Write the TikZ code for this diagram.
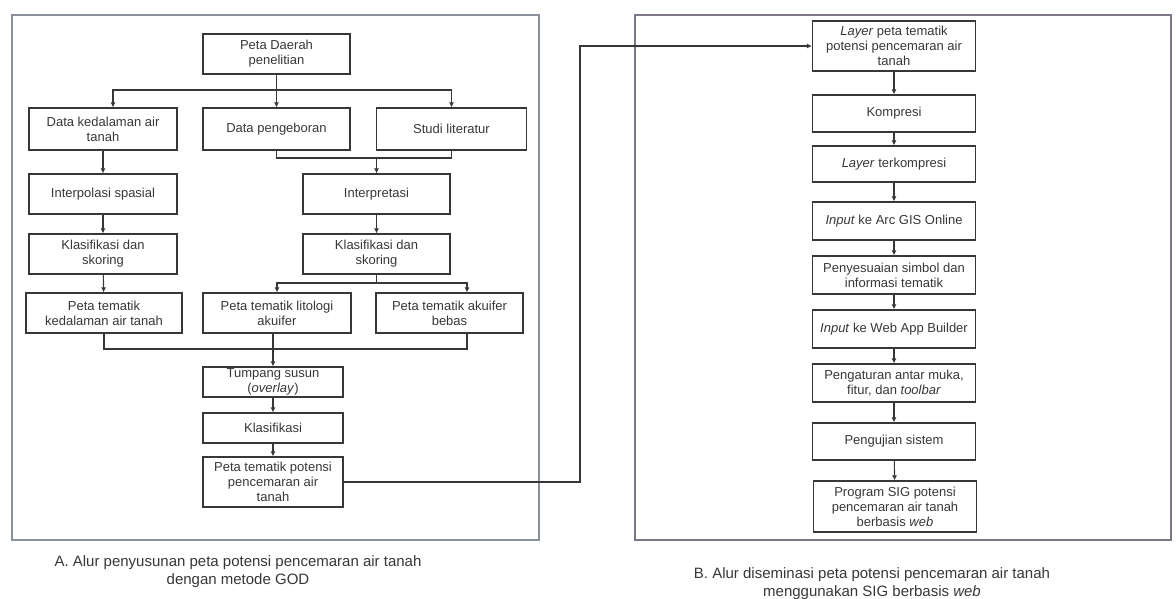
\documentclass[tikz,border=0pt]{standalone}
\usepackage{fontspec}
\setmainfont{Liberation Sans}
\usetikzlibrary{arrows.meta}
\definecolor{framea}{RGB}{138,145,155}
\definecolor{frameb}{RGB}{128,118,138}
\definecolor{ink}{RGB}{55,55,55}

\begin{document}
\begin{tikzpicture}[x=1pt,y=-1pt,
  box/.style={draw=ink,line width=1.2pt,text=ink,align=center,inner sep=1pt,font=\fontsize{13}{15}\selectfont},
  link/.style={draw=ink,line width=1.1pt},
  arr/.style={-{Latex[length=5pt,width=5pt]}},
  caption/.style={align=center,text=ink,font=\fontsize{15}{18}\selectfont}]
\useasboundingbox (0,0) rectangle (1176,599);

% panel frames
\draw[framea,line width=2pt] (12,15) rectangle (539,540);
\draw[frameb,line width=2pt] (635,15) rectangle (1171,540);

% A. penyusunan peta
\node[box,minimum width=147pt,minimum height=40pt] (peta) at (276.5,54) {Peta Daerah\\penelitian};
\node[box,minimum width=148pt,minimum height=42pt] (kedalaman) at (103,129) {Data kedalaman air\\tanah};
\node[box,minimum width=147pt,minimum height=42pt] (pengeboran) at (276.5,129) {Data pengeboran};
\node[box,minimum width=150pt,minimum height=42pt] (literatur) at (451.5,129) {Studi literatur};
\node[box,minimum width=148pt,minimum height=40pt] (interpolasi) at (103,194) {Interpolasi spasial};
\node[box,minimum width=147pt,minimum height=40pt] (interpretasi) at (376.5,194) {Interpretasi};
\node[box,minimum width=148pt,minimum height=40pt] (klasA) at (103,254) {Klasifikasi dan\\skoring};
\node[box,minimum width=147pt,minimum height=40pt] (klasB) at (376.5,254) {Klasifikasi dan\\skoring};
\node[box,minimum width=156pt,minimum height=40pt] (tematikA) at (104,313) {Peta tematik\\kedalaman air tanah};
\node[box,minimum width=148pt,minimum height=40pt] (litologi) at (277,313) {Peta tematik litologi\\akuifer};
\node[box,minimum width=147pt,minimum height=40pt] (bebas) at (449.5,313) {Peta tematik akuifer\\bebas};
\node[box,minimum width=140pt,minimum height=30pt,inner ysep=0pt] (tumpang) at (273,382) {Tumpang susun\\(\emph{overlay})};
\node[box,minimum width=140pt,minimum height=30pt] (klasifikasi) at (273,428) {Klasifikasi};
\node[box,minimum width=140pt,minimum height=50pt] (potensiA) at (273,482) {Peta tematik potensi\\pencemaran air\\tanah};

\coordinate (j1) at (276.5,90);
\coordinate (j2) at (376.5,158);
\coordinate (j3) at (376.5,283);
\coordinate (j4) at (273,349);
\coordinate (bend) at (580,264);

\draw[link] (peta) -- (j1);
\draw[link,arr] (j1) -| ([xshift=10pt]kedalaman.north);
\draw[link,arr] (j1) -- (pengeboran);
\draw[link,arr] (j1) -| (literatur);
\draw[link] (pengeboran) |- (j2);
\draw[link] (literatur) |- (j2);
\draw[link,arr] (j2) -- (interpretasi);
\draw[link,arr] (interpretasi) -- (klasB);
\draw[link] (klasB) -- (j3);
\draw[link,arr] (j3) -| (litologi);
\draw[link,arr] (j3) -| ([xshift=17.5pt]bebas.north);
\foreach \a/\b in {kedalaman/interpolasi,interpolasi/klasA,klasA/tematikA}
  \draw[link,arr] (\a) -- (\b);
\draw[link] (tematikA) |- (j4);
\draw[link] ([xshift=17.5pt]bebas.south) |- (j4);
\draw[link,arr] (litologi.south -| tumpang.north) -- (tumpang);
\draw[link,arr] (tumpang) -- (klasifikasi);
\draw[link,arr] (klasifikasi) -- (potensiA);

% B. diseminasi
\node[box,minimum width=163pt,minimum height=50pt] (layer) at (894,46) {\emph{Layer} peta tematik\\potensi pencemaran air\\tanah};
\node[box,minimum width=163pt,minimum height=37pt] (kompresi) at (894,113.5) {Kompresi};
\node[box,minimum width=163pt,minimum height=36pt] (terkompresi) at (894,164) {\emph{Layer} terkompresi};
\node[box,minimum width=163pt,minimum height=38pt] (arcgis) at (894,221) {\emph{Input} ke Arc GIS Online};
\node[box,minimum width=163pt,minimum height=38pt] (simbol) at (894,275) {Penyesuaian simbol dan\\informasi tematik};
\node[box,minimum width=163pt,minimum height=38pt] (webapp) at (894,329) {\emph{Input} ke Web App Builder};
\node[box,minimum width=163pt,minimum height=38pt] (pengaturan) at (894,383) {Pengaturan antar muka,\\fitur, dan \emph{toolbar}};
\node[box,minimum width=163pt,minimum height=37pt] (pengujian) at (894,441.5) {Pengujian sistem};
\node[box,minimum width=163pt,minimum height=51pt] (program) at (895,506.5) {Program SIG potensi\\pencemaran air tanah\\berbasis \emph{web}};

\foreach \a/\b in {layer/kompresi,kompresi/terkompresi,terkompresi/arcgis,arcgis/simbol,simbol/webapp,webapp/pengaturan,pengaturan/pengujian,pengujian/program}
  \draw[link,arr] (\a) -- (\b);

\draw[link,arr] (potensiA.east) -| (bend) |- (layer.west);

\node[caption] (capA) at (238,572) {A. Alur penyusunan peta potensi pencemaran air tanah\\dengan metode GOD};
\node[caption] (capB) at (872,584) {B. Alur diseminasi peta potensi pencemaran air tanah\\menggunakan SIG berbasis \emph{web}};
\end{tikzpicture}
\end{document}
